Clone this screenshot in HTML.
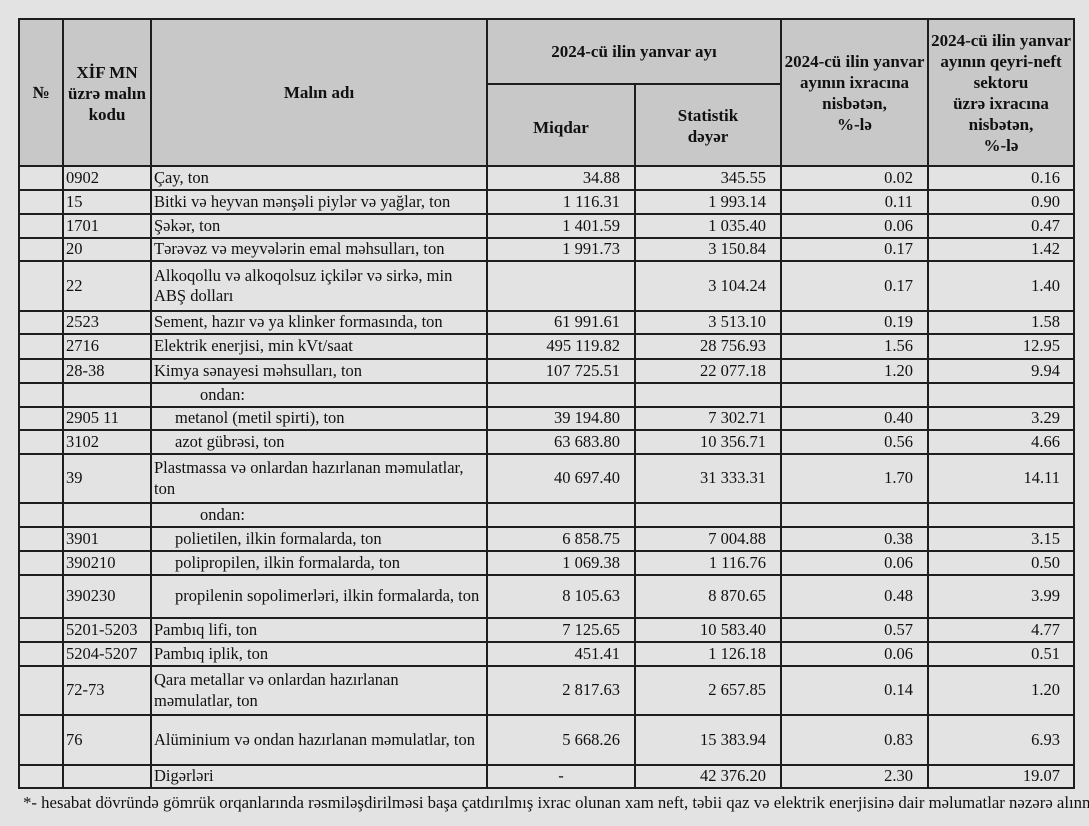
<!DOCTYPE html>
<html>
<head>
<meta charset="utf-8">
<style>
html,body{margin:0;padding:0;}
body{width:1089px;height:826px;background:#e3e3e3;position:relative;overflow:hidden;font-family:"Liberation Serif",serif;color:#111;}
.hdr{position:absolute;left:19px;top:19px;width:1055px;height:147px;background:#c8c8c8;}
.hl{position:absolute;height:2px;background:#1e1e1e;}
.vl{position:absolute;width:2px;background:#1e1e1e;}
.h{position:absolute;display:flex;align-items:center;justify-content:center;text-align:center;font-weight:bold;font-size:17px;line-height:21px;white-space:nowrap;}
.r{position:absolute;left:0;width:1089px;}
.c{position:absolute;top:0;height:100%;display:flex;align-items:center;box-sizing:border-box;font-size:16.5px;line-height:20.5px;white-space:nowrap;}
.k{left:63px;width:88px;padding-left:3px;}
.n{left:151px;width:336px;padding-left:3px;}
.m{left:487px;width:148px;padding-right:15px;justify-content:flex-end;}
.s{left:635px;width:146px;padding-right:15px;justify-content:flex-end;}
.p{left:781px;width:147px;padding-right:15px;justify-content:flex-end;}
.q{left:928px;width:146px;padding-right:14px;justify-content:flex-end;}
.i1{padding-left:24px;}
.i2{padding-left:49px;}
.foot{position:absolute;left:23px;top:793px;width:1066px;height:22px;overflow:hidden;font-size:16.75px;line-height:20px;white-space:nowrap;}
</style>
</head>
<body>
<div class="hdr"></div>

<div class="h" style="left:19px;top:19px;width:44px;height:147px;">№</div>
<div class="h" style="left:63px;top:19px;width:88px;height:149px;">XİF MN<br>üzrə malın<br>kodu</div>
<div class="h" style="left:151px;top:19px;width:336px;height:147px;">Malın adı</div>
<div class="h" style="left:487px;top:19px;width:294px;height:65px;">2024-cü ilin yanvar ayı</div>
<div class="h" style="left:487px;top:84px;width:148px;height:86px;">Miqdar</div>
<div class="h" style="left:635px;top:84px;width:146px;height:84px;">Statistik<br>dəyər</div>
<div class="h" style="left:781px;top:19px;width:147px;height:147px;">2024-cü ilin yanvar<br>ayının ixracına<br>nisbətən,<br>%-lə</div>
<div class="h" style="left:928px;top:19px;width:146px;height:148px;">2024-cü ilin yanvar<br>ayının qeyri-neft<br>sektoru<br>üzrə ixracına<br>nisbətən,<br>%-lə</div>

<div class="r" style="top:166px;height:24px;"><div class="c k">0902</div><div class="c n">Çay, ton</div><div class="c m">34.88</div><div class="c s">345.55</div><div class="c p">0.02</div><div class="c q">0.16</div></div>
<div class="r" style="top:190px;height:24px;"><div class="c k">15</div><div class="c n">Bitki və heyvan mənşəli piylər və yağlar, ton</div><div class="c m">1 116.31</div><div class="c s">1 993.14</div><div class="c p">0.11</div><div class="c q">0.90</div></div>
<div class="r" style="top:214px;height:24px;"><div class="c k">1701</div><div class="c n">Şəkər, ton</div><div class="c m">1 401.59</div><div class="c s">1 035.40</div><div class="c p">0.06</div><div class="c q">0.47</div></div>
<div class="r" style="top:238px;height:23px;"><div class="c k">20</div><div class="c n">Tərəvəz və meyvələrin emal məhsulları, ton</div><div class="c m">1 991.73</div><div class="c s">3 150.84</div><div class="c p">0.17</div><div class="c q">1.42</div></div>
<div class="r" style="top:261px;height:50px;"><div class="c k">22</div><div class="c n"><span>Alkoqollu və alkoqolsuz içkilər və sirkə, min<br>ABŞ dolları</span></div><div class="c m"></div><div class="c s">3 104.24</div><div class="c p">0.17</div><div class="c q">1.40</div></div>
<div class="r" style="top:311px;height:23px;"><div class="c k">2523</div><div class="c n">Sement, hazır və ya klinker formasında, ton</div><div class="c m">61 991.61</div><div class="c s">3 513.10</div><div class="c p">0.19</div><div class="c q">1.58</div></div>
<div class="r" style="top:334px;height:25px;"><div class="c k">2716</div><div class="c n">Elektrik enerjisi, min kVt/saat</div><div class="c m">495 119.82</div><div class="c s">28 756.93</div><div class="c p">1.56</div><div class="c q">12.95</div></div>
<div class="r" style="top:359px;height:24px;"><div class="c k">28-38</div><div class="c n">Kimya sənayesi məhsulları, ton</div><div class="c m">107 725.51</div><div class="c s">22 077.18</div><div class="c p">1.20</div><div class="c q">9.94</div></div>
<div class="r" style="top:383px;height:24px;"><div class="c n i2">ondan:</div></div>
<div class="r" style="top:407px;height:23px;"><div class="c k">2905 11</div><div class="c n i1">metanol (metil spirti), ton</div><div class="c m">39 194.80</div><div class="c s">7 302.71</div><div class="c p">0.40</div><div class="c q">3.29</div></div>
<div class="r" style="top:430px;height:24px;"><div class="c k">3102</div><div class="c n i1">azot gübrəsi, ton</div><div class="c m">63 683.80</div><div class="c s">10 356.71</div><div class="c p">0.56</div><div class="c q">4.66</div></div>
<div class="r" style="top:454px;height:49px;"><div class="c k">39</div><div class="c n"><span>Plastmassa və onlardan hazırlanan məmulatlar,<br>ton</span></div><div class="c m">40 697.40</div><div class="c s">31 333.31</div><div class="c p">1.70</div><div class="c q">14.11</div></div>
<div class="r" style="top:503px;height:24px;"><div class="c n i2">ondan:</div></div>
<div class="r" style="top:527px;height:24px;"><div class="c k">3901</div><div class="c n i1">polietilen, ilkin formalarda, ton</div><div class="c m">6 858.75</div><div class="c s">7 004.88</div><div class="c p">0.38</div><div class="c q">3.15</div></div>
<div class="r" style="top:551px;height:24px;"><div class="c k">390210</div><div class="c n i1">polipropilen, ilkin formalarda, ton</div><div class="c m">1 069.38</div><div class="c s">1 116.76</div><div class="c p">0.06</div><div class="c q">0.50</div></div>
<div class="r" style="top:575px;height:43px;"><div class="c k">390230</div><div class="c n i1">propilenin sopolimerləri, ilkin formalarda, ton</div><div class="c m">8 105.63</div><div class="c s">8 870.65</div><div class="c p">0.48</div><div class="c q">3.99</div></div>
<div class="r" style="top:618px;height:24px;"><div class="c k">5201-5203</div><div class="c n">Pambıq lifi, ton</div><div class="c m">7 125.65</div><div class="c s">10 583.40</div><div class="c p">0.57</div><div class="c q">4.77</div></div>
<div class="r" style="top:642px;height:24px;"><div class="c k">5204-5207</div><div class="c n">Pambıq iplik, ton</div><div class="c m">451.41</div><div class="c s">1 126.18</div><div class="c p">0.06</div><div class="c q">0.51</div></div>
<div class="r" style="top:666px;height:49px;"><div class="c k">72-73</div><div class="c n"><span>Qara metallar və onlardan hazırlanan<br>məmulatlar, ton</span></div><div class="c m">2 817.63</div><div class="c s">2 657.85</div><div class="c p">0.14</div><div class="c q">1.20</div></div>
<div class="r" style="top:715px;height:50px;"><div class="c k">76</div><div class="c n">Alüminium və ondan hazırlanan məmulatlar, ton</div><div class="c m">5 668.26</div><div class="c s">15 383.94</div><div class="c p">0.83</div><div class="c q">6.93</div></div>
<div class="r" style="top:765px;height:23px;"><div class="c n">Digərləri</div><div class="c m" style="justify-content:center;padding-right:0;">-</div><div class="c s">42 376.20</div><div class="c p">2.30</div><div class="c q">19.07</div></div>

<div class="hl" style="left:18px;width:1057px;top:18px;"></div>
<div class="hl" style="left:486px;width:296px;top:83px;"></div>
<div class="hl" style="left:18px;width:1057px;top:165px;"></div>
<div class="hl" style="left:18px;width:1057px;top:189px;"></div>
<div class="hl" style="left:18px;width:1057px;top:213px;"></div>
<div class="hl" style="left:18px;width:1057px;top:237px;"></div>
<div class="hl" style="left:18px;width:1057px;top:260px;"></div>
<div class="hl" style="left:18px;width:1057px;top:310px;"></div>
<div class="hl" style="left:18px;width:1057px;top:333px;"></div>
<div class="hl" style="left:18px;width:1057px;top:358px;"></div>
<div class="hl" style="left:18px;width:1057px;top:382px;"></div>
<div class="hl" style="left:18px;width:1057px;top:406px;"></div>
<div class="hl" style="left:18px;width:1057px;top:429px;"></div>
<div class="hl" style="left:18px;width:1057px;top:453px;"></div>
<div class="hl" style="left:18px;width:1057px;top:502px;"></div>
<div class="hl" style="left:18px;width:1057px;top:526px;"></div>
<div class="hl" style="left:18px;width:1057px;top:550px;"></div>
<div class="hl" style="left:18px;width:1057px;top:574px;"></div>
<div class="hl" style="left:18px;width:1057px;top:617px;"></div>
<div class="hl" style="left:18px;width:1057px;top:641px;"></div>
<div class="hl" style="left:18px;width:1057px;top:665px;"></div>
<div class="hl" style="left:18px;width:1057px;top:714px;"></div>
<div class="hl" style="left:18px;width:1057px;top:764px;"></div>
<div class="hl" style="left:18px;width:1057px;top:787px;"></div>

<div class="vl" style="left:18px;top:18px;height:771px;"></div>
<div class="vl" style="left:62px;top:18px;height:771px;"></div>
<div class="vl" style="left:150px;top:18px;height:771px;"></div>
<div class="vl" style="left:486px;top:18px;height:771px;"></div>
<div class="vl" style="left:634px;top:83px;height:706px;"></div>
<div class="vl" style="left:780px;top:18px;height:771px;"></div>
<div class="vl" style="left:927px;top:18px;height:771px;"></div>
<div class="vl" style="left:1073px;top:18px;height:771px;"></div>

<div class="foot">*- hesabat dövründə gömrük orqanlarında rəsmiləşdirilməsi başa çatdırılmış ixrac olunan xam neft, təbii qaz və elektrik enerjisinə dair məlumatlar nəzərə alınmamışdır.</div>
</body>
</html>
